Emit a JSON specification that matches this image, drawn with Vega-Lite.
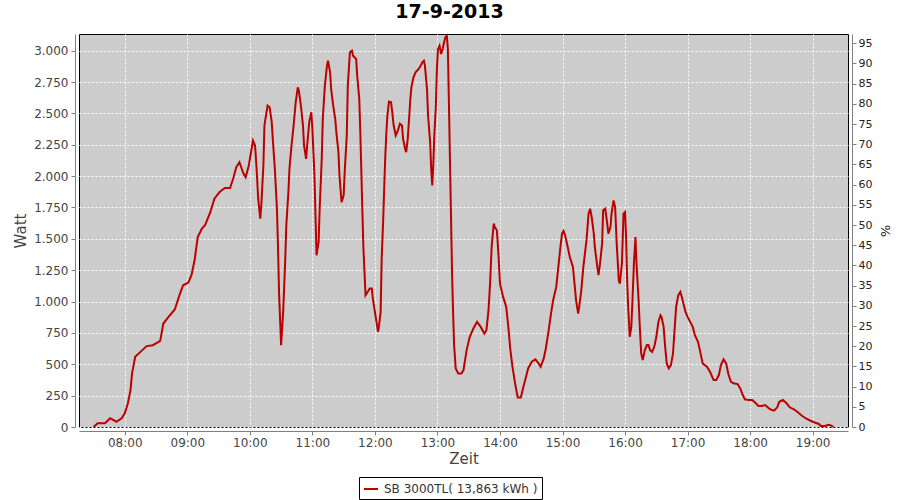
{
  "$schema": "https://vega.github.io/schema/vega-lite/v6.json",
  "width": 769,
  "height": 393,
  "autosize": {"type": "none"},
  "padding": {"left": 79, "top": 34, "right": 52, "bottom": 73},
  "background": "white",
  "title": {"text": "17-9-2013", "fontSize": 19, "fontWeight": "bold", "font": "DejaVu Sans", "color": "black", "anchor": "middle", "dx": -14, "offset": 10},
  "config": {
    "view": {"fill": "#cccccc", "stroke": "black", "strokeWidth": 1},
    "font": "DejaVu Sans"
  },
  "layer": [
    {
      "data": {"values": [
        {"time": "2013-09-17T07:30:00", "watt": 0},
        {"time": "2013-09-17T07:34:00", "watt": 30},
        {"time": "2013-09-17T07:41:00", "watt": 30},
        {"time": "2013-09-17T07:46:00", "watt": 70},
        {"time": "2013-09-17T07:52:00", "watt": 42},
        {"time": "2013-09-17T07:57:00", "watt": 70},
        {"time": "2013-09-17T08:00:00", "watt": 109},
        {"time": "2013-09-17T08:03:00", "watt": 189},
        {"time": "2013-09-17T08:05:30", "watt": 294},
        {"time": "2013-09-17T08:07:00", "watt": 427},
        {"time": "2013-09-17T08:10:00", "watt": 560},
        {"time": "2013-09-17T08:14:00", "watt": 591},
        {"time": "2013-09-17T08:21:00", "watt": 645},
        {"time": "2013-09-17T08:27:00", "watt": 652},
        {"time": "2013-09-17T08:34:00", "watt": 687},
        {"time": "2013-09-17T08:37:00", "watt": 825},
        {"time": "2013-09-17T08:42:00", "watt": 878},
        {"time": "2013-09-17T08:48:00", "watt": 937},
        {"time": "2013-09-17T08:53:00", "watt": 1064},
        {"time": "2013-09-17T08:56:00", "watt": 1130},
        {"time": "2013-09-17T09:01:00", "watt": 1151},
        {"time": "2013-09-17T09:04:00", "watt": 1210},
        {"time": "2013-09-17T09:07:00", "watt": 1329},
        {"time": "2013-09-17T09:10:00", "watt": 1514},
        {"time": "2013-09-17T09:14:00", "watt": 1581},
        {"time": "2013-09-17T09:17:00", "watt": 1608},
        {"time": "2013-09-17T09:22:00", "watt": 1710},
        {"time": "2013-09-17T09:26:00", "watt": 1820},
        {"time": "2013-09-17T09:31:00", "watt": 1873},
        {"time": "2013-09-17T09:36:00", "watt": 1905},
        {"time": "2013-09-17T09:41:00", "watt": 1905},
        {"time": "2013-09-17T09:44:00", "watt": 1979},
        {"time": "2013-09-17T09:47:00", "watt": 2072},
        {"time": "2013-09-17T09:50:00", "watt": 2111},
        {"time": "2013-09-17T09:54:00", "watt": 2019},
        {"time": "2013-09-17T09:56:00", "watt": 1992},
        {"time": "2013-09-17T09:59:00", "watt": 2085},
        {"time": "2013-09-17T10:03:00", "watt": 2284},
        {"time": "2013-09-17T10:05:00", "watt": 2244},
        {"time": "2013-09-17T10:06:30", "watt": 2059},
        {"time": "2013-09-17T10:08:00", "watt": 1820},
        {"time": "2013-09-17T10:10:00", "watt": 1661},
        {"time": "2013-09-17T10:11:00", "watt": 1767},
        {"time": "2013-09-17T10:13:00", "watt": 2085},
        {"time": "2013-09-17T10:14:00", "watt": 2403},
        {"time": "2013-09-17T10:17:00", "watt": 2562},
        {"time": "2013-09-17T10:19:00", "watt": 2549},
        {"time": "2013-09-17T10:21:00", "watt": 2430},
        {"time": "2013-09-17T10:22:00", "watt": 2297},
        {"time": "2013-09-17T10:24:00", "watt": 2059},
        {"time": "2013-09-17T10:26:00", "watt": 1740},
        {"time": "2013-09-17T10:27:00", "watt": 1448},
        {"time": "2013-09-17T10:28:00", "watt": 1077},
        {"time": "2013-09-17T10:29:30", "watt": 758},
        {"time": "2013-09-17T10:30:00", "watt": 653},
        {"time": "2013-09-17T10:32:00", "watt": 918},
        {"time": "2013-09-17T10:34:00", "watt": 1342},
        {"time": "2013-09-17T10:35:00", "watt": 1608},
        {"time": "2013-09-17T10:37:00", "watt": 1873},
        {"time": "2013-09-17T10:38:00", "watt": 2059},
        {"time": "2013-09-17T10:40:00", "watt": 2244},
        {"time": "2013-09-17T10:42:00", "watt": 2403},
        {"time": "2013-09-17T10:44:00", "watt": 2589},
        {"time": "2013-09-17T10:46:00", "watt": 2708},
        {"time": "2013-09-17T10:47:00", "watt": 2682},
        {"time": "2013-09-17T10:49:00", "watt": 2562},
        {"time": "2013-09-17T10:51:00", "watt": 2403},
        {"time": "2013-09-17T10:52:00", "watt": 2244},
        {"time": "2013-09-17T10:54:00", "watt": 2138},
        {"time": "2013-09-17T10:55:00", "watt": 2244},
        {"time": "2013-09-17T10:57:00", "watt": 2430},
        {"time": "2013-09-17T10:59:00", "watt": 2509},
        {"time": "2013-09-17T11:00:00", "watt": 2377},
        {"time": "2013-09-17T11:02:00", "watt": 2005},
        {"time": "2013-09-17T11:03:00", "watt": 1687},
        {"time": "2013-09-17T11:04:00", "watt": 1369},
        {"time": "2013-09-17T11:06:00", "watt": 1475},
        {"time": "2013-09-17T11:07:00", "watt": 1740},
        {"time": "2013-09-17T11:09:00", "watt": 2138},
        {"time": "2013-09-17T11:10:00", "watt": 2457},
        {"time": "2013-09-17T11:12:00", "watt": 2722},
        {"time": "2013-09-17T11:14:00", "watt": 2881},
        {"time": "2013-09-17T11:15:00", "watt": 2921},
        {"time": "2013-09-17T11:17:00", "watt": 2828},
        {"time": "2013-09-17T11:18:00", "watt": 2695},
        {"time": "2013-09-17T11:20:00", "watt": 2562},
        {"time": "2013-09-17T11:22:00", "watt": 2450},
        {"time": "2013-09-17T11:23:00", "watt": 2350},
        {"time": "2013-09-17T11:25:00", "watt": 2191},
        {"time": "2013-09-17T11:26:00", "watt": 2005},
        {"time": "2013-09-17T11:28:00", "watt": 1793},
        {"time": "2013-09-17T11:30:00", "watt": 1846},
        {"time": "2013-09-17T11:31:00", "watt": 2032},
        {"time": "2013-09-17T11:33:00", "watt": 2324},
        {"time": "2013-09-17T11:34:00", "watt": 2722},
        {"time": "2013-09-17T11:36:00", "watt": 2987},
        {"time": "2013-09-17T11:38:00", "watt": 3000},
        {"time": "2013-09-17T11:39:00", "watt": 2960},
        {"time": "2013-09-17T11:42:00", "watt": 2934},
        {"time": "2013-09-17T11:43:00", "watt": 2801},
        {"time": "2013-09-17T11:45:00", "watt": 2616},
        {"time": "2013-09-17T11:46:00", "watt": 2350},
        {"time": "2013-09-17T11:47:00", "watt": 2032},
        {"time": "2013-09-17T11:48:00", "watt": 1713},
        {"time": "2013-09-17T11:49:00", "watt": 1422},
        {"time": "2013-09-17T11:50:00", "watt": 1236},
        {"time": "2013-09-17T11:51:00", "watt": 1050},
        {"time": "2013-09-17T11:53:00", "watt": 1077},
        {"time": "2013-09-17T11:55:00", "watt": 1104},
        {"time": "2013-09-17T11:57:00", "watt": 1104},
        {"time": "2013-09-17T11:58:00", "watt": 1024},
        {"time": "2013-09-17T12:00:00", "watt": 918},
        {"time": "2013-09-17T12:02:00", "watt": 812},
        {"time": "2013-09-17T12:03:00", "watt": 758},
        {"time": "2013-09-17T12:04:00", "watt": 812},
        {"time": "2013-09-17T12:05:30", "watt": 918},
        {"time": "2013-09-17T12:06:30", "watt": 1342},
        {"time": "2013-09-17T12:08:00", "watt": 1661},
        {"time": "2013-09-17T12:09:00", "watt": 1926},
        {"time": "2013-09-17T12:10:00", "watt": 2165},
        {"time": "2013-09-17T12:11:00", "watt": 2350},
        {"time": "2013-09-17T12:12:00", "watt": 2483},
        {"time": "2013-09-17T12:13:30", "watt": 2594},
        {"time": "2013-09-17T12:15:30", "watt": 2589},
        {"time": "2013-09-17T12:17:00", "watt": 2483},
        {"time": "2013-09-17T12:18:00", "watt": 2403},
        {"time": "2013-09-17T12:20:00", "watt": 2324},
        {"time": "2013-09-17T12:22:00", "watt": 2363},
        {"time": "2013-09-17T12:24:00", "watt": 2417},
        {"time": "2013-09-17T12:26:00", "watt": 2403},
        {"time": "2013-09-17T12:27:00", "watt": 2297},
        {"time": "2013-09-17T12:29:00", "watt": 2218},
        {"time": "2013-09-17T12:30:00", "watt": 2191},
        {"time": "2013-09-17T12:31:30", "watt": 2297},
        {"time": "2013-09-17T12:33:00", "watt": 2483},
        {"time": "2013-09-17T12:34:00", "watt": 2616},
        {"time": "2013-09-17T12:35:00", "watt": 2708},
        {"time": "2013-09-17T12:37:00", "watt": 2788},
        {"time": "2013-09-17T12:39:00", "watt": 2828},
        {"time": "2013-09-17T12:42:00", "watt": 2854},
        {"time": "2013-09-17T12:44:00", "watt": 2881},
        {"time": "2013-09-17T12:45:30", "watt": 2907},
        {"time": "2013-09-17T12:47:00", "watt": 2920},
        {"time": "2013-09-17T12:48:00", "watt": 2881},
        {"time": "2013-09-17T12:50:00", "watt": 2695},
        {"time": "2013-09-17T12:51:00", "watt": 2483},
        {"time": "2013-09-17T12:53:00", "watt": 2270},
        {"time": "2013-09-17T12:54:00", "watt": 2059},
        {"time": "2013-09-17T12:55:00", "watt": 1926},
        {"time": "2013-09-17T12:56:00", "watt": 2085},
        {"time": "2013-09-17T12:57:00", "watt": 2324},
        {"time": "2013-09-17T12:58:30", "watt": 2562},
        {"time": "2013-09-17T12:59:30", "watt": 2854},
        {"time": "2013-09-17T13:00:30", "watt": 3014},
        {"time": "2013-09-17T13:02:00", "watt": 3040},
        {"time": "2013-09-17T13:03:30", "watt": 2974},
        {"time": "2013-09-17T13:05:00", "watt": 3014},
        {"time": "2013-09-17T13:06:00", "watt": 3053},
        {"time": "2013-09-17T13:07:30", "watt": 3106},
        {"time": "2013-09-17T13:09:00", "watt": 3120},
        {"time": "2013-09-17T13:10:00", "watt": 3014},
        {"time": "2013-09-17T13:11:00", "watt": 2589},
        {"time": "2013-09-17T13:12:00", "watt": 2138},
        {"time": "2013-09-17T13:13:00", "watt": 1687},
        {"time": "2013-09-17T13:14:00", "watt": 1236},
        {"time": "2013-09-17T13:15:00", "watt": 918},
        {"time": "2013-09-17T13:16:00", "watt": 653},
        {"time": "2013-09-17T13:17:30", "watt": 467},
        {"time": "2013-09-17T13:20:00", "watt": 427},
        {"time": "2013-09-17T13:23:00", "watt": 427},
        {"time": "2013-09-17T13:25:00", "watt": 454},
        {"time": "2013-09-17T13:28:00", "watt": 613},
        {"time": "2013-09-17T13:31:00", "watt": 719},
        {"time": "2013-09-17T13:34:30", "watt": 785},
        {"time": "2013-09-17T13:38:00", "watt": 838},
        {"time": "2013-09-17T13:41:30", "watt": 798},
        {"time": "2013-09-17T13:45:00", "watt": 745},
        {"time": "2013-09-17T13:47:00", "watt": 772},
        {"time": "2013-09-17T13:49:00", "watt": 931},
        {"time": "2013-09-17T13:50:30", "watt": 1143},
        {"time": "2013-09-17T13:52:00", "watt": 1435},
        {"time": "2013-09-17T13:54:00", "watt": 1621},
        {"time": "2013-09-17T13:55:00", "watt": 1594},
        {"time": "2013-09-17T13:57:00", "watt": 1568},
        {"time": "2013-09-17T13:58:30", "watt": 1382},
        {"time": "2013-09-17T14:00:00", "watt": 1143},
        {"time": "2013-09-17T14:03:00", "watt": 1037},
        {"time": "2013-09-17T14:06:00", "watt": 957},
        {"time": "2013-09-17T14:08:00", "watt": 798},
        {"time": "2013-09-17T14:10:00", "watt": 613},
        {"time": "2013-09-17T14:12:00", "watt": 480},
        {"time": "2013-09-17T14:14:30", "watt": 348},
        {"time": "2013-09-17T14:17:00", "watt": 236},
        {"time": "2013-09-17T14:20:00", "watt": 236},
        {"time": "2013-09-17T14:22:30", "watt": 321},
        {"time": "2013-09-17T14:25:00", "watt": 400},
        {"time": "2013-09-17T14:27:00", "watt": 467},
        {"time": "2013-09-17T14:30:30", "watt": 520},
        {"time": "2013-09-17T14:34:00", "watt": 539},
        {"time": "2013-09-17T14:37:00", "watt": 507},
        {"time": "2013-09-17T14:39:00", "watt": 480},
        {"time": "2013-09-17T14:42:00", "watt": 547},
        {"time": "2013-09-17T14:44:00", "watt": 626},
        {"time": "2013-09-17T14:46:30", "watt": 758},
        {"time": "2013-09-17T14:49:00", "watt": 905},
        {"time": "2013-09-17T14:51:00", "watt": 1011},
        {"time": "2013-09-17T14:54:00", "watt": 1117},
        {"time": "2013-09-17T14:56:00", "watt": 1276},
        {"time": "2013-09-17T14:58:00", "watt": 1435},
        {"time": "2013-09-17T14:59:30", "watt": 1541},
        {"time": "2013-09-17T15:01:00", "watt": 1562},
        {"time": "2013-09-17T15:02:30", "watt": 1528},
        {"time": "2013-09-17T15:05:00", "watt": 1435},
        {"time": "2013-09-17T15:07:00", "watt": 1355},
        {"time": "2013-09-17T15:10:00", "watt": 1276},
        {"time": "2013-09-17T15:11:30", "watt": 1143},
        {"time": "2013-09-17T15:13:00", "watt": 1011},
        {"time": "2013-09-17T15:15:00", "watt": 905},
        {"time": "2013-09-17T15:16:00", "watt": 957},
        {"time": "2013-09-17T15:18:00", "watt": 1090},
        {"time": "2013-09-17T15:20:00", "watt": 1276},
        {"time": "2013-09-17T15:23:00", "watt": 1488},
        {"time": "2013-09-17T15:25:00", "watt": 1700},
        {"time": "2013-09-17T15:26:30", "watt": 1740},
        {"time": "2013-09-17T15:28:00", "watt": 1674},
        {"time": "2013-09-17T15:30:00", "watt": 1541},
        {"time": "2013-09-17T15:31:00", "watt": 1435},
        {"time": "2013-09-17T15:33:00", "watt": 1303},
        {"time": "2013-09-17T15:34:30", "watt": 1210},
        {"time": "2013-09-17T15:36:00", "watt": 1303},
        {"time": "2013-09-17T15:38:00", "watt": 1462},
        {"time": "2013-09-17T15:39:00", "watt": 1727},
        {"time": "2013-09-17T15:41:00", "watt": 1740},
        {"time": "2013-09-17T15:42:30", "watt": 1647},
        {"time": "2013-09-17T15:44:00", "watt": 1541},
        {"time": "2013-09-17T15:46:00", "watt": 1594},
        {"time": "2013-09-17T15:47:00", "watt": 1700},
        {"time": "2013-09-17T15:49:00", "watt": 1806},
        {"time": "2013-09-17T15:50:30", "watt": 1753},
        {"time": "2013-09-17T15:52:00", "watt": 1462},
        {"time": "2013-09-17T15:54:00", "watt": 1170},
        {"time": "2013-09-17T15:55:00", "watt": 1143},
        {"time": "2013-09-17T15:57:00", "watt": 1303},
        {"time": "2013-09-17T15:58:30", "watt": 1700},
        {"time": "2013-09-17T16:00:00", "watt": 1713},
        {"time": "2013-09-17T16:01:00", "watt": 1514},
        {"time": "2013-09-17T16:02:00", "watt": 1170},
        {"time": "2013-09-17T16:03:00", "watt": 957},
        {"time": "2013-09-17T16:04:30", "watt": 719},
        {"time": "2013-09-17T16:06:00", "watt": 798},
        {"time": "2013-09-17T16:07:00", "watt": 984},
        {"time": "2013-09-17T16:08:30", "watt": 1303},
        {"time": "2013-09-17T16:10:00", "watt": 1514},
        {"time": "2013-09-17T16:11:00", "watt": 1303},
        {"time": "2013-09-17T16:13:00", "watt": 1011},
        {"time": "2013-09-17T16:14:00", "watt": 825},
        {"time": "2013-09-17T16:15:30", "watt": 586},
        {"time": "2013-09-17T16:17:00", "watt": 533},
        {"time": "2013-09-17T16:19:00", "watt": 613},
        {"time": "2013-09-17T16:21:00", "watt": 653},
        {"time": "2013-09-17T16:22:30", "watt": 653},
        {"time": "2013-09-17T16:24:00", "watt": 613},
        {"time": "2013-09-17T16:26:00", "watt": 599},
        {"time": "2013-09-17T16:28:00", "watt": 639},
        {"time": "2013-09-17T16:30:00", "watt": 719},
        {"time": "2013-09-17T16:32:00", "watt": 838},
        {"time": "2013-09-17T16:34:00", "watt": 891},
        {"time": "2013-09-17T16:35:00", "watt": 878},
        {"time": "2013-09-17T16:37:00", "watt": 798},
        {"time": "2013-09-17T16:38:30", "watt": 639},
        {"time": "2013-09-17T16:40:00", "watt": 507},
        {"time": "2013-09-17T16:42:00", "watt": 467},
        {"time": "2013-09-17T16:44:00", "watt": 493},
        {"time": "2013-09-17T16:46:00", "watt": 586},
        {"time": "2013-09-17T16:47:30", "watt": 772},
        {"time": "2013-09-17T16:49:00", "watt": 957},
        {"time": "2013-09-17T16:51:00", "watt": 1050},
        {"time": "2013-09-17T16:53:00", "watt": 1077},
        {"time": "2013-09-17T16:54:30", "watt": 1037},
        {"time": "2013-09-17T16:56:00", "watt": 984},
        {"time": "2013-09-17T16:58:00", "watt": 918},
        {"time": "2013-09-17T17:00:00", "watt": 878},
        {"time": "2013-09-17T17:02:30", "watt": 838},
        {"time": "2013-09-17T17:05:00", "watt": 798},
        {"time": "2013-09-17T17:07:00", "watt": 732},
        {"time": "2013-09-17T17:10:00", "watt": 679},
        {"time": "2013-09-17T17:12:00", "watt": 605},
        {"time": "2013-09-17T17:14:30", "watt": 507},
        {"time": "2013-09-17T17:18:30", "watt": 480},
        {"time": "2013-09-17T17:21:30", "watt": 440},
        {"time": "2013-09-17T17:25:00", "watt": 374},
        {"time": "2013-09-17T17:27:30", "watt": 374},
        {"time": "2013-09-17T17:30:00", "watt": 414},
        {"time": "2013-09-17T17:32:00", "watt": 493},
        {"time": "2013-09-17T17:34:30", "watt": 539},
        {"time": "2013-09-17T17:37:00", "watt": 507},
        {"time": "2013-09-17T17:39:00", "watt": 427},
        {"time": "2013-09-17T17:41:30", "watt": 361},
        {"time": "2013-09-17T17:44:00", "watt": 348},
        {"time": "2013-09-17T17:48:00", "watt": 342},
        {"time": "2013-09-17T17:50:30", "watt": 308},
        {"time": "2013-09-17T17:53:00", "watt": 255},
        {"time": "2013-09-17T17:55:00", "watt": 220},
        {"time": "2013-09-17T17:58:30", "watt": 215},
        {"time": "2013-09-17T18:02:00", "watt": 215},
        {"time": "2013-09-17T18:05:00", "watt": 193},
        {"time": "2013-09-17T18:08:00", "watt": 167},
        {"time": "2013-09-17T18:11:00", "watt": 167},
        {"time": "2013-09-17T18:14:30", "watt": 175},
        {"time": "2013-09-17T18:18:00", "watt": 149},
        {"time": "2013-09-17T18:21:00", "watt": 135},
        {"time": "2013-09-17T18:23:00", "watt": 130},
        {"time": "2013-09-17T18:26:00", "watt": 157},
        {"time": "2013-09-17T18:28:00", "watt": 201},
        {"time": "2013-09-17T18:31:30", "watt": 215},
        {"time": "2013-09-17T18:35:00", "watt": 189},
        {"time": "2013-09-17T18:38:00", "watt": 157},
        {"time": "2013-09-17T18:42:00", "watt": 141},
        {"time": "2013-09-17T18:45:30", "watt": 119},
        {"time": "2013-09-17T18:50:00", "watt": 88},
        {"time": "2013-09-17T18:54:00", "watt": 66},
        {"time": "2013-09-17T18:58:00", "watt": 50},
        {"time": "2013-09-17T19:02:30", "watt": 34},
        {"time": "2013-09-17T19:06:00", "watt": 24},
        {"time": "2013-09-17T19:08:00", "watt": 8},
        {"time": "2013-09-17T19:12:00", "watt": 8},
        {"time": "2013-09-17T19:15:00", "watt": 18},
        {"time": "2013-09-17T19:17:30", "watt": 13},
        {"time": "2013-09-17T19:20:00", "watt": 0}
      ]},
      "mark": {"type": "line", "strokeWidth": 2},
      "encoding": {
        "x": {
          "field": "time", "type": "temporal",
          "scale": {"padding": 14.5, "nice": false},
          "axis": {
            "title": "Zeit", "format": "%H:%M", "tickCount": 12,
            "offset": 4, "domainColor": "#808080", "tickColor": "#808080", "tickSize": 4,
            "labelFontSize": 12, "labelColor": "#444444", "labelPadding": 2,
            "titleFontSize": 15, "titleFontWeight": "normal", "titleColor": "#444444", "titlePadding": 3,
            "grid": true, "gridColor": "white", "gridDash": [2, 2], "gridWidth": 1, "gridOpacity": 1
          }
        },
        "y": {
          "field": "watt", "type": "quantitative",
          "scale": {"domain": [0, 3133], "nice": false},
          "axis": {
            "title": "Watt", "values": [0, 250, 500, 750, 1000, 1250, 1500, 1750, 2000, 2250, 2500, 2750, 3000],
            "labelExpr": "replace(format(datum.value, ',d'), ',', '.')",
            "offset": 4, "domainColor": "#808080", "tickColor": "#808080", "tickSize": 4,
            "labelFontSize": 12, "labelColor": "#444444", "labelPadding": 3,
            "titleFontSize": 15, "titleFontWeight": "normal", "titleColor": "#444444", "titlePadding": 5,
            "grid": true, "gridColor": "white", "gridDash": [2, 2], "gridWidth": 1, "gridOpacity": 1
          }
        },
        "color": {
          "datum": "SB 3000TL( 13,863 kWh )",
          "scale": {"range": ["#bb0000"]},
          "legend": {
            "title": null, "orient": "none", "legendX": 280, "legendY": 443,
            "strokeColor": "black", "fillColor": "white", "padding": 4,
            "symbolType": "stroke", "symbolStrokeWidth": 2, "symbolSize": 196,
            "labelFontSize": 12, "labelColor": "#333333", "labelOffset": 5
          }
        }
      }
    },
    {
      "data": {"values": [{"pct": 0}, {"pct": 95}]},
      "mark": {"type": "point", "opacity": 0},
      "encoding": {
        "y": {
          "field": "pct", "type": "quantitative",
          "scale": {"domain": [0, 97.3], "nice": false},
          "axis": {
            "orient": "right", "title": "%", "values": [0, 5, 10, 15, 20, 25, 30, 35, 40, 45, 50, 55, 60, 65, 70, 75, 80, 85, 90, 95],
            "offset": 4, "domainColor": "#808080", "tickColor": "#808080", "tickSize": 4, "grid": false,
            "labelFontSize": 11, "labelColor": "#222222", "labelPadding": 2,
            "titleFontSize": 13, "titleFontWeight": "normal", "titleColor": "#222222", "titlePadding": 6
          }
        }
      }
    }
  ],
  "resolve": {"scale": {"y": "independent"}}
}
